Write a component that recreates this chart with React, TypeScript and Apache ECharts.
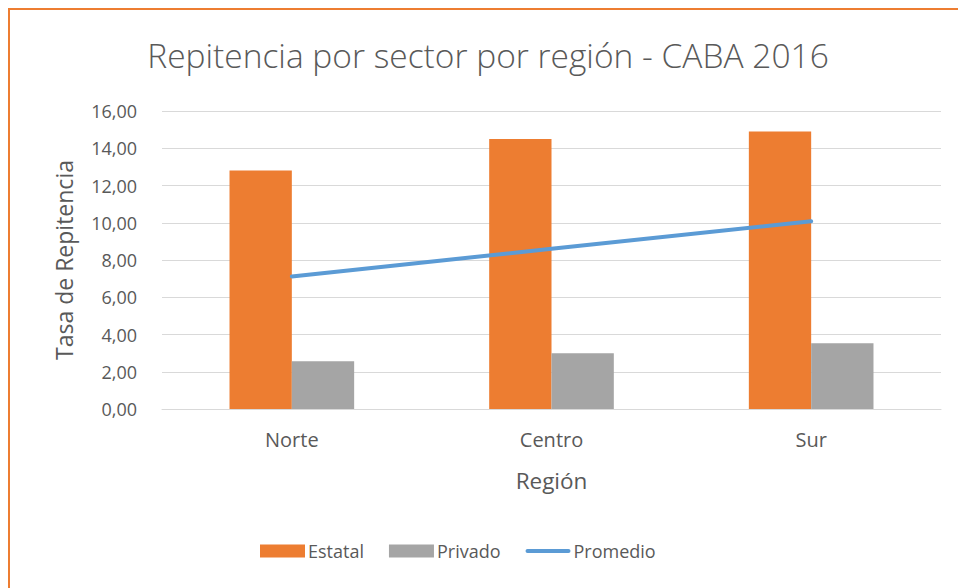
import React, { useEffect, useRef } from "react";
import * as echarts from "echarts";

const categories = ["Norte", "Centro", "Sur"];
const estatal = [12.8, 14.5, 14.9];
const privado = [2.57, 3.0, 3.53];
const promedio = [7.12, 8.6, 10.08];
const yMin = 0;
const yMax = 16;
const yStep = 2;

const FONT = "Open Sans";
const TEXT = "#595959";

export default function App() {
  const ref = useRef<HTMLDivElement>(null);
  useEffect(() => {
    if (!ref.current) return;
    const chart = echarts.init(ref.current, undefined, { renderer: "svg" });
    chart.setOption({
      animation: false,
      backgroundColor: "#ffffff",
      textStyle: { fontFamily: FONT, color: TEXT },
      title: {
        text: "Repitencia por sector por región - CABA 2016",
        left: "center",
        top: 23,
        textStyle: { fontFamily: FONT, fontSize: 33.5, fontWeight: 300, color: TEXT },
      },
      grid: { left: 152, right: 25, top: 101, bottom: 179 },
      legend: {
        left: 245,
        top: 527,
        itemWidth: 45,
        itemHeight: 13,
        itemGap: 25,
        itemStyle: { borderWidth: 0 },
        textStyle: { fontFamily: FONT, fontSize: 18, color: TEXT, padding: [0, 0, 0, -2] },
        data: [
          { name: "Estatal", icon: "rect" },
          { name: "Privado", icon: "rect" },
          {
            name: "Promedio",
            icon: "path://M2,0 H43 A2,2 0 0 1 43,4 H2 A2,2 0 0 1 2,0 Z",
            itemStyle: { color: "#5B9BD5" },
          },
        ],
      },
      xAxis: {
        type: "category",
        data: categories,
        name: "Región",
        nameLocation: "middle",
        nameGap: 60,
        nameTextStyle: { fontFamily: FONT, fontSize: 22.5, color: TEXT },
        axisLine: { lineStyle: { color: "#D9D9D9", width: 1 } },
        axisTick: { show: false },
        axisLabel: { fontFamily: FONT, fontSize: 20, color: TEXT, margin: 20 },
      },
      yAxis: {
        type: "value",
        min: yMin,
        max: yMax,
        interval: yStep,
        name: "Tasa de Repitencia",
        nameLocation: "middle",
        nameRotate: 90,
        nameGap: 87,
        nameTextStyle: { fontFamily: FONT, fontSize: 23, color: TEXT },
        axisLine: { show: false },
        axisTick: { show: false },
        splitLine: { lineStyle: { color: "#D9D9D9", width: 1 } },
        axisLabel: {
          fontFamily: FONT,
          fontSize: 18,
          color: TEXT,
          margin: 25,
          formatter: (v: number) => v.toFixed(2).replace(".", ","),
        },
      },
      series: [
        {
          name: "Estatal",
          type: "bar",
          data: estatal,
          barGap: "0%",
          barCategoryGap: "52%",
          itemStyle: { color: "#ED7D31" },
        },
        {
          name: "Privado",
          type: "bar",
          data: privado,
          itemStyle: { color: "#A5A5A5" },
        },
        {
          name: "Promedio",
          type: "line",
          data: promedio,
          symbol: "none",
          lineStyle: { color: "#5B9BD5", width: 4, cap: "round" },
          itemStyle: { color: "#5B9BD5" },
          z: 5,
        },
      ],
    });
    return () => chart.dispose();
  }, []);
  return (
    <div
      style={{
        width: 958,
        height: 580,
        borderTop: "2px solid #ED7D31",
        borderLeft: "2px solid #ED7D31",
        boxSizing: "border-box",
      }}
    >
      <div ref={ref} style={{ width: 956, height: 578 }} />
    </div>
  );
}
